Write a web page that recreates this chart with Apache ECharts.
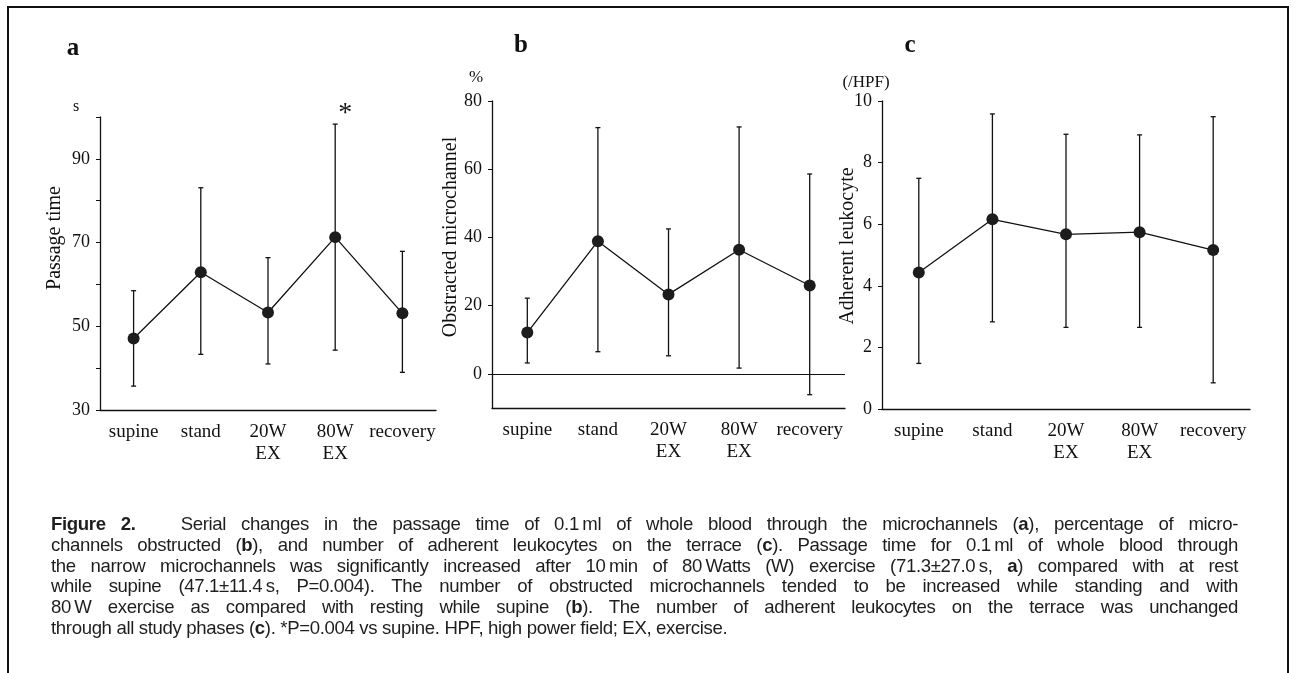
<!DOCTYPE html>
<html>
<head>
<meta charset="utf-8">
<script src="https://cdn.jsdelivr.net/npm/echarts@6/dist/echarts.min.js"></script>
<style>
  html, body { margin: 0; padding: 0; background: #fff; }
  #main { width: 1295px; height: 673px; position: absolute; left: 0; top: 0; }
  #caption {
    position: absolute; left: 51px; top: 514px; width: 1187px;
    font-family: "Liberation Sans", Arial, sans-serif;
    font-size: 18.6px; letter-spacing: -0.35px; line-height: 20.8px; color: #1e1e1e;
  }
  #caption div { text-align: justify; text-align-last: justify; white-space: nowrap; }
  #caption div.last { text-align-last: left; }
</style>
</head>
<body>
<div id="main"></div>
<div id="caption">
  <div><b>Figure 2.</b>&nbsp;&nbsp; Serial changes in the passage time of 0.1&#8201;ml of whole blood through the microchannels (<b>a</b>), percentage of micro-</div>
  <div>channels obstructed (<b>b</b>), and number of adherent leukocytes on the terrace (<b>c</b>). Passage time for 0.1&#8201;ml of whole blood through</div>
  <div>the narrow microchannels was significantly increased after 10&#8201;min of 80&#8201;Watts (W) exercise (71.3±27.0&#8201;s, <b>a</b>) compared with at rest</div>
  <div>while supine (47.1±11.4&#8201;s, P=0.004). The number of obstructed microchannels tended to be increased while standing and with</div>
  <div>80&#8201;W exercise as compared with resting while supine (<b>b</b>). The number of adherent leukocytes on the terrace was unchanged</div>
  <div class="last">through all study phases (<b>c</b>). *P=0.004 vs supine. HPF, high power field; EX, exercise.</div>
</div>
<script>
// study phases
var categories = ['supine', 'stand', '20W\nEX', '80W\nEX', 'recovery'];

// a: passage time (s), mean and error bar ends
var passageMean = [47.1, 62.9, 53.3, 71.3, 53.1];
var passageLow = [35.7, 43.3, 41.0, 44.3, 39.0];
var passageHigh = [58.5, 83.1, 66.4, 98.3, 67.9];
var passageTicks = [30, 50, 70, 90];

// b: obstructed microchannel (%)
var obstructMean = [12.1, 38.9, 23.3, 36.4, 25.9];
var obstructLow = [3.2, 6.5, 5.3, 1.7, -6.1];
var obstructHigh = [22.2, 72.2, 42.5, 72.4, 58.6];
var obstructTicks = [0, 20, 40, 60, 80];

// c: adherent leukocyte (/HPF)
var leukoMean = [4.43, 6.16, 5.67, 5.74, 5.16];
var leukoLow = [1.48, 2.83, 2.65, 2.65, 0.85];
var leukoHigh = [7.49, 9.58, 8.92, 8.90, 9.49];
var leukoTicks = [0, 2, 4, 6, 8, 10];

var serif = '"Liberation Serif", "DejaVu Serif", serif';
var ink = '#111';

function errData(low, high) {
  var out = [];
  for (var i = 0; i < low.length; i++) {
    out.push([i, low[i], high[i]]);
  }
  return out;
}

function renderErr(params, api) {
  var lo = api.coord([api.value(0), api.value(1)]);
  var hi = api.coord([api.value(0), api.value(2)]);
  var cap = 2.5;
  var st = { stroke: ink, lineWidth: 1.3 };
  return {
    type: 'group',
    children: [
      { type: 'line', shape: { x1: lo[0], y1: lo[1], x2: hi[0], y2: hi[1] }, style: st },
      { type: 'line', shape: { x1: hi[0] - cap, y1: hi[1], x2: hi[0] + cap, y2: hi[1] }, style: st },
      { type: 'line', shape: { x1: lo[0] - cap, y1: lo[1], x2: lo[0] + cap, y2: lo[1] }, style: st }
    ]
  };
}

function xAxisFor(idx) {
  return {
    type: 'category', gridIndex: idx, data: categories, boundaryGap: true,
    axisLine: { onZero: false, lineStyle: { color: ink, width: 1.3 } },
    axisTick: { alignWithLabel: true, length: 4, lineStyle: { color: ink } },
    axisLabel: { interval: 0, color: ink, fontFamily: serif, fontSize: 19, lineHeight: 22, margin: 11 }
  };
}

function yAxisFor(idx, min, max, interval, ticks, tickAll) {
  var ax = {
    type: 'value', gridIndex: idx, min: min, max: max, interval: interval,
    splitLine: { show: false },
    axisLine: { show: true, lineStyle: { color: ink, width: 1.3 } },
    axisTick: { show: true, length: 4, lineStyle: { color: ink } },
    axisLabel: { color: ink, fontFamily: serif, fontSize: 18, margin: 10, customValues: ticks }
  };
  if (!tickAll) ax.axisTick.customValues = ticks;
  return ax;
}

function lineSeries(idx, data, extra) {
  var s = {
    type: 'line', xAxisIndex: idx, yAxisIndex: idx, data: data, z: 5,
    symbol: 'circle', symbolSize: 12,
    itemStyle: { color: '#1c1c1c' },
    lineStyle: { color: ink, width: 1.3 }
  };
  for (var k in extra) s[k] = extra[k];
  return s;
}

function errSeries(idx, low, high) {
  return {
    type: 'custom', xAxisIndex: idx, yAxisIndex: idx, z: 3,
    renderItem: renderErr, data: errData(low, high)
  };
}

function txt(x, y, text, size, opts) {
  var o = {
    type: 'text', x: x, y: y,
    style: { text: text, fill: ink, font: (opts && opts.bold ? 'bold ' : '') + size + 'px ' + serif,
      textAlign: 'center', textVerticalAlign: 'middle' }
  };
  if (opts && opts.rotate) o.rotation = Math.PI / 2;
  return o;
}

var myChart = echarts.init(document.getElementById('main'));

myChart.setOption({
  backgroundColor: '#fff',
  animation: false,
  grid: [
    { left: 100, top: 117, width: 336, height: 293 },
    { left: 492, top: 101, width: 353, height: 307 },
    { left: 882, top: 101, width: 368, height: 308 }
  ],
  xAxis: [xAxisFor(0), xAxisFor(1), xAxisFor(2)],
  yAxis: [
    yAxisFor(0, 30, 100, 10, passageTicks, true),
    yAxisFor(1, -10, 80, 10, obstructTicks, false),
    yAxisFor(2, 0, 10, 2, leukoTicks, true)
  ],
  graphic: [
    // outer frame
    { type: 'rect', shape: { x: 8, y: 7, width: 1280, height: 700 }, style: { fill: null, stroke: '#111', lineWidth: 2 } },
    // panel letters
    txt(73, 49, 'a', 25, { bold: true }),
    txt(521, 46, 'b', 25, { bold: true }),
    txt(910, 46, 'c', 25, { bold: true }),
    // units
    txt(76, 107, 's', 16),
    txt(476, 78, '%', 17),
    txt(866, 83, '(/HPF)', 17),
    // axis names
    txt(55, 238, 'Passage time', 20, { rotate: true }),
    txt(451, 237, 'Obstracted microchannel', 20, { rotate: true }),
    txt(848, 246, 'Adherent leukocyte', 20, { rotate: true })
  ],
  series: [
    errSeries(0, passageLow, passageHigh),
    lineSeries(0, passageMean, {
      markPoint: {
        symbol: 'circle', symbolSize: 1, itemStyle: { color: 'rgba(0,0,0,0)' },
        label: { show: true, formatter: '*', color: ink, fontFamily: serif, fontSize: 28, offset: [10, -10] },
        data: [{ coord: [3, passageHigh[3]] }]
      }
    }),
    errSeries(1, obstructLow, obstructHigh),
    lineSeries(1, obstructMean, {
      // zero reference line
      markLine: {
        silent: true, symbol: 'none', label: { show: false },
        lineStyle: { color: ink, width: 1, type: 'solid' },
        data: [{ yAxis: 0 }]
      }
    }),
    errSeries(2, leukoLow, leukoHigh),
    lineSeries(2, leukoMean, {})
  ]
});
</script>
</body>
</html>
